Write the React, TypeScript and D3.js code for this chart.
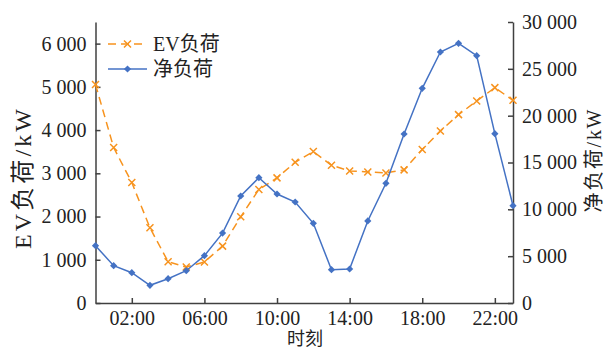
import { useRef, useEffect } from 'react';
import * as d3 from 'd3';

const hours = [0, 1, 2, 3, 4, 5, 6, 7, 8, 9, 10, 11, 12, 13, 14, 15, 16, 17, 18, 19, 20, 21, 22, 23];
const evLoad = [5055, 3596, 2787, 1739, 954, 831, 950, 1316, 1993, 2626, 2894, 3256, 3503, 3187, 3055, 3032, 3009, 3079, 3550, 3979, 4358, 4672, 4982, 4688];
const netLoad = [6117, 3982, 3235, 1890, 2594, 3448, 5050, 7460, 11423, 13377, 11637, 10783, 8508, 3555, 3630, 8760, 12779, 18042, 22921, 26797, 27725, 26402, 18075, 10388];
const xTicks = [2, 6, 10, 14, 18, 22];
const leftTicks = [0, 1000, 2000, 3000, 4000, 5000, 6000];
const rightTicks = [0, 5000, 10000, 15000, 20000, 25000, 30000];
const seriesNames = ['EV负荷', '净负荷'];

const ORANGE = '#F7931E';
const BLUE = '#4472C4';
const AXIS = '#404040';
const FONT = '"Liberation Serif", "Times New Roman", "Noto Sans CJK SC", serif';

const fmt = (v: number) => d3.format(',')(v).replace(/,/g, ' ');

const App: React.FC = () => {
    const svgRef = useRef<SVGSVGElement>(null);

    useEffect(() => {
        if (!svgRef.current) return;
        const svg = d3.select(svgRef.current);
        svg.selectAll('*').remove();

        const left = 95.5, right = 513, top = 22, bottom = 303;

        const x = d3.scaleLinear().domain([0, 23]).range([left, right]);
        const yL = d3.scaleLinear().domain([0, 6500]).range([bottom, top]);
        const yR = d3.scaleLinear().domain([0, 30000]).range([bottom, top]);

        const styleAxis = (g: any) => {
            g.select('.domain').attr('stroke', AXIS).attr('stroke-width', 1.5);
            g.selectAll('.tick line').attr('stroke', AXIS).attr('stroke-width', 1.5);
            g.selectAll('.tick text')
                .attr('fill', '#222')
                .style('font-family', FONT)
                .style('font-size', '20px');
        };

        // left axis
        svg.append('g')
            .attr('transform', `translate(${left},0)`)
            .call(d3.axisLeft(yL).tickValues(leftTicks).tickSize(-5).tickPadding(9).tickFormat(d => fmt(+d)).tickSizeOuter(0))
            .call(styleAxis);

        // right axis
        svg.append('g')
            .attr('transform', `translate(${right},0)`)
            .call(d3.axisRight(yR).tickValues(rightTicks).tickSize(-5).tickPadding(9).tickFormat(d => fmt(+d)).tickSizeOuter(0))
            .call(styleAxis);

        // bottom axis
        svg.append('g')
            .attr('transform', `translate(0,${bottom})`)
            .call(d3.axisBottom(x).tickValues(xTicks).tickSize(-5).tickPadding(8)
                .tickFormat(d => `${String(d).padStart(2, '0')}:00`).tickSizeOuter(0))
            .call(styleAxis);

        // axis titles
        svg.append('text')
            .attr('transform', `translate(31,179) rotate(-90)`)
            .attr('text-anchor', 'middle')
            .attr('textLength', 140).attr('lengthAdjust', 'spacing')
            .style('font-family', FONT).style('font-size', '24px').attr('fill', '#222')
            .text('EV负荷/kW');
        svg.append('text')
            .attr('transform', `translate(601,161) rotate(-90)`)
            .attr('text-anchor', 'middle')
            .attr('textLength', 103).attr('lengthAdjust', 'spacing')
            .style('font-family', FONT).style('font-size', '20px').attr('fill', '#222')
            .text('净负荷/kW');
        svg.append('text')
            .attr('x', 305).attr('y', 345)
            .attr('text-anchor', 'middle')
            .style('font-family', FONT).style('font-size', '18px').attr('fill', '#222')
            .text('时刻');

        const crossPath = 'M-3.5,-3.5L3.5,3.5M-3.5,3.5L3.5,-3.5';
        const square = d3.symbol().type(d3.symbolSquare).size(26);

        // EV line
        const evLine = d3.line<number>().x((_, i) => x(hours[i])).y(d => yL(d));
        svg.append('path')
            .attr('d', evLine(evLoad))
            .attr('fill', 'none').attr('stroke', ORANGE).attr('stroke-width', 1.5)
            .attr('stroke-dasharray', '8,5');
        svg.append('g').selectAll('path')
            .data(evLoad)
            .join('path')
            .attr('transform', (d, i) => `translate(${x(hours[i])},${yL(d)})`)
            .attr('d', crossPath)
            .attr('stroke', ORANGE).attr('stroke-width', 1.5);

        // net load line
        const netLine = d3.line<number>().x((_, i) => x(hours[i])).y(d => yR(d));
        svg.append('path')
            .attr('d', netLine(netLoad))
            .attr('fill', 'none').attr('stroke', BLUE).attr('stroke-width', 1.5);
        svg.append('g').selectAll('path')
            .data(netLoad)
            .join('path')
            .attr('transform', (d, i) => `translate(${x(hours[i])},${yR(d)}) rotate(45)`)
            .attr('d', square()!)
            .attr('fill', BLUE);

        // legend
        const lg = svg.append('g');
        const rows = [
            { name: seriesNames[0], color: ORANGE, dash: '8,5', y: 44, marker: 'cross' },
            { name: seriesNames[1], color: BLUE, dash: null, y: 69, marker: 'diamond' },
        ];
        rows.forEach(r => {
            lg.append('line')
                .attr('x1', 108).attr('x2', 147).attr('y1', r.y).attr('y2', r.y)
                .attr('stroke', r.color).attr('stroke-width', 1.5)
                .attr('stroke-dasharray', r.dash);
            const m = lg.append('path');
            if (r.marker === 'cross') {
                m.attr('transform', `translate(127.5,${r.y})`).attr('d', crossPath).attr('stroke', r.color).attr('stroke-width', 1.5);
            } else {
                m.attr('transform', `translate(127.5,${r.y}) rotate(45)`).attr('d', square()!).attr('fill', r.color);
            }
            lg.append('text')
                .attr('x', 153).attr('y', r.y + 7)
                .style('font-family', FONT).style('font-size', '20px').attr('fill', '#222')
                .text(r.name);
        });
    }, []);

    return (
        <svg ref={svgRef} width={605} height={349}
            style={{ position: 'absolute', left: 0, top: 0, background: '#fff' }} />
    );
};

export default App;
